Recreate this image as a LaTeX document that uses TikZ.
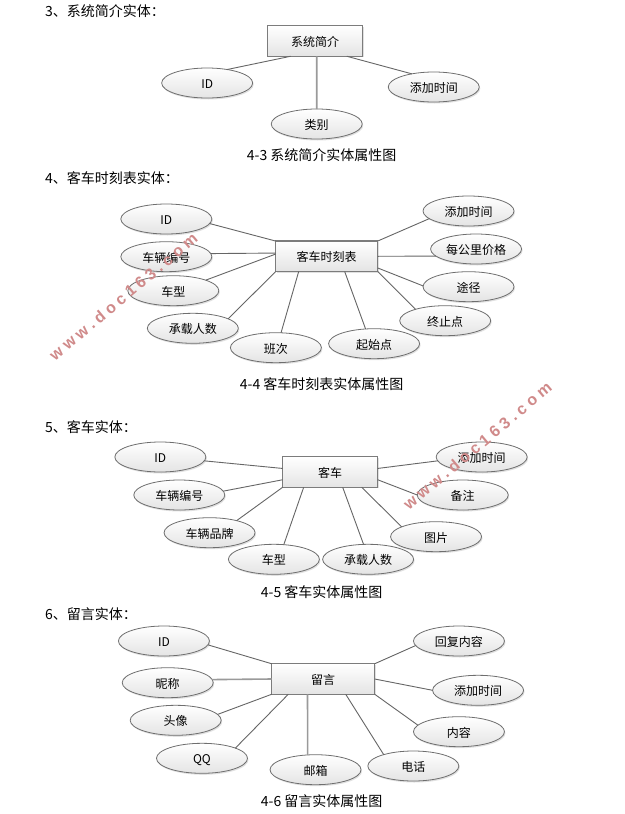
\documentclass[tikz,border=0pt]{standalone}
\usepackage{fontspec}
\setmainfont{Noto Sans CJK SC}
\newfontfamily\markfont[LetterSpace=26]{Liberation Sans}
\usetikzlibrary{shapes.geometric,shadows}
\definecolor{edgegray}{HTML}{6E6E6E}
\definecolor{boxedge}{HTML}{7C7C7C}
\definecolor{linkgray}{HTML}{666666}
\definecolor{thickgray}{HTML}{9A9A9A}
\definecolor{fillbottom}{HTML}{E4E4E4}
\definecolor{markred}{HTML}{D08A8A}
\tikzset{
  entity/.style={rectangle,draw=boxedge,line width=1.2pt,top color=white,bottom color=fillbottom,
    minimum height=30.5pt,inner sep=0pt,outer sep=0pt,text=black,font=\fontsize{12}{14}\selectfont,
    text height=12pt,text depth=1pt,
    drop shadow={shadow xshift=1pt,shadow yshift=-1pt,fill=black!30,opacity=.4}},
  attr/.style={ellipse,draw=edgegray,line width=0.8pt,top color=white,bottom color=fillbottom,
    minimum width=91pt,minimum height=30pt,inner sep=0pt,outer sep=0pt,text=black,font=\fontsize{12}{14}\selectfont,
    text height=12pt,text depth=1pt,
    drop shadow={shadow xshift=1pt,shadow yshift=-1.5pt,fill=black!30,opacity=.4}},
  link/.style={draw=linkgray,line width=0.9pt},
  linkthick/.style={draw=thickgray,line width=1.6pt},
  heading/.style={anchor=west,inner sep=0pt,font=\fontsize{14}{16}\selectfont,text=black},
  caption/.style={inner sep=0pt,font=\fontsize{14}{16}\selectfont,text=black},
  watermark/.style={inner sep=0pt,text=markred,font=\fontsize{16}{18}\markfont\bfseries},
}
\begin{document}
\begin{tikzpicture}[x=0.996pt,y=-1pt]
\useasboundingbox (0,0) rectangle (627.5,814);
\fill[white] (0,0) rectangle (627.5,814);

% ---------- section 3
\node[heading] (h3) at (45,11) {3、系统简介实体：};
\node[entity,minimum width=95pt] (b1) at (316.5,41) {系统简介};
\node[attr] (a1id) at (208,83) {ID};
\node[attr] (a1time) at (435.5,87) {添加时间};
\node[attr] (a1type) at (318,124) {类别};
\node[caption] (c3) at (323,155) {4-3 系统简介实体属性图};
\draw[link] ([xshift=23pt]b1.south west) -- (a1id.34);
\draw[link] ([xshift=79pt]b1.south west) -- (a1time.149);
\draw[linkthick] ([xshift=49pt]b1.south west) -- (a1type.90);

% ---------- section 4
\node[heading] (h4) at (45,177.7) {4、客车时刻表实体：};
\node[entity,minimum width=102pt] (b2) at (328,256.3) {客车时刻表};
\node[attr] (a2id) at (167,219) {ID};
\node[attr] (a2no) at (167,256.7) {车辆编号};
\node[attr] (a2type) at (174,290.7) {车型};
\node[attr] (a2seat) at (193.6,328.3) {承载人数};
\node[attr] (a2run) at (277,347.7) {班次};
\node[attr] (a2from) at (375.6,343.7) {起始点};
\node[attr] (a2to) at (447,320.7) {终止点};
\node[attr] (a2via) at (470.4,286.7) {途径};
\node[attr] (a2price) at (478,249) {每公里价格};
\node[attr] (a2time) at (470.4,211) {添加时间};
\node[caption] (c4) at (323,384) {4-4 客车时刻表实体属性图};
\draw[link] (b2.north west) -- (a2id.-6);
\draw[link] ([yshift=-12pt]b2.north west) -- (a2no.4);
\draw[link] ([yshift=-13pt]b2.north west) -- (a2type.18);
\draw[link] (b2.south west) -- (a2seat.15.4);
\draw[link] ([xshift=23pt]b2.south west) -- (a2run.71.6);
\draw[link] ([xshift=69pt]b2.south west) -- (a2from.120);
\draw[link] (b2.south east) -- (a2to.159);
\draw[link] ([yshift=3.6pt]b2.south east) -- (a2via.179);
\draw[link] (b2.east) -- (a2price.190.6);
\draw[link] (b2.north east) -- (a2time.191);

% ---------- section 5
\node[heading] (h5) at (45,427.3) {5、客车实体：};
\node[entity,minimum width=95pt] (b3) at (331.5,472) {客车};
\node[attr] (a3id) at (161,457) {ID};
\node[attr] (a3no) at (180,495) {车辆编号};
\node[attr] (a3brand) at (210.4,532.7) {车辆品牌};
\node[attr] (a3type) at (275,559.3) {车型};
\node[attr] (a3seat) at (369.6,559.3) {承载人数};
\node[attr] (a3pic) at (437.8,536.7) {图片};
\node[attr] (a3note) at (464.6,495) {备注};
\node[attr] (a3time) at (483.6,457) {添加时间};
\node[caption] (c5) at (323,592) {4-5 客车实体属性图};
\draw[link] ([yshift=-11.7pt]b3.north west) -- (a3id.-5);
\draw[link] ([yshift=-23pt]b3.north west) -- (a3no.5);
\draw[link] (b3.south west) -- (a3brand.24);
\draw[link] ([xshift=21pt]b3.south west) -- (a3type.56);
\draw[link] ([xshift=60pt]b3.south west) -- (a3seat.107);
\draw[link] ([xshift=79pt]b3.south west) -- (a3pic.164.5);
\draw[link] ([yshift=-23pt]b3.north east) -- (a3note.180);
\draw[link] ([yshift=-11.7pt]b3.north east) -- (a3time.185);

% ---------- section 6
\node[heading] (h6) at (45,614) {6、留言实体：};
\node[entity,minimum width=103pt] (b4) at (324.5,679) {留言};
\node[attr] (a4id) at (164.6,641) {ID};
\node[attr] (a4nick) at (168.4,682.7) {昵称};
\node[attr] (a4face) at (176.4,720.3) {头像};
\node[attr] (a4qq) at (202.8,758.3) {QQ};
\node[attr] (a4mail) at (316.8,769.7) {邮箱};
\node[attr] (a4tel) at (415,766) {电话};
\node[attr] (a4body) at (460.8,731.7) {内容};
\node[attr] (a4time) at (480,690.3) {添加时间};
\node[attr] (a4reply) at (460.8,641) {回复内容};
\node[caption] (c6) at (323,800.7) {4-6 留言实体属性图};
\draw[link] (b4.north west) -- (a4id.-5);
\draw[linkthick] (b4.west) -- (a4nick.4.6);
\draw[link] (b4.south west) -- (a4face.8);
\draw[link] ([xshift=16.6pt]b4.south west) -- (a4qq.17);
\draw[linkthick] ([xshift=35.8pt]b4.south west) -- (a4mail.118);
\draw[link] ([xshift=74pt]b4.south west) -- (a4tel.159);
\draw[link] (b4.south east) -- (a4body.171);
\draw[link] (b4.east) -- (a4time.180);
\draw[link] (b4.north east) -- (a4reply.186.5);

% ---------- watermarks
\node[watermark,rotate=40] (w1) at (123.8,296.7) {www.doc163.com};
\node[watermark,rotate=40] (w2) at (479.4,445.8) {www.doc163.com};
\end{tikzpicture}
\end{document}
